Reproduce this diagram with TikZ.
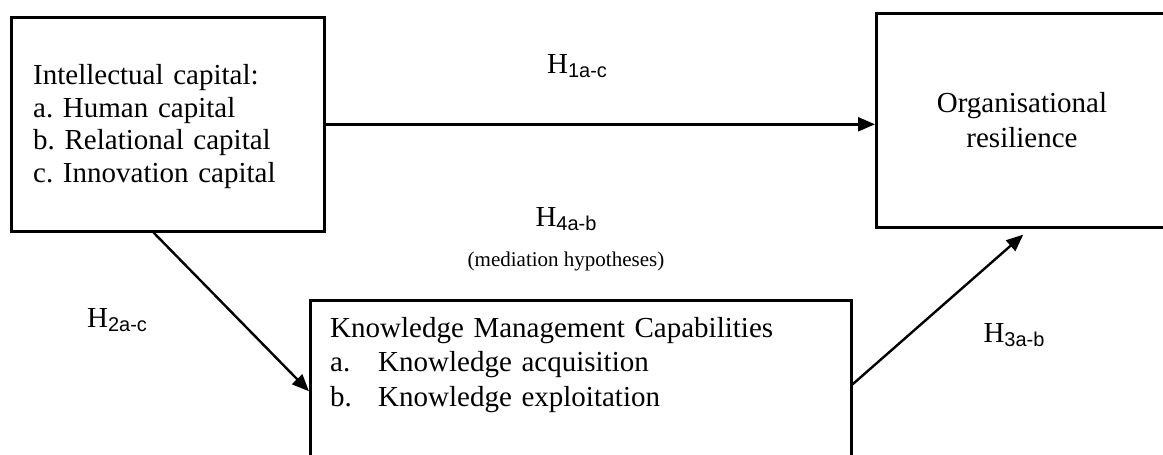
\documentclass[tikz,border=0pt]{standalone}
\usepackage{fontspec}
\setmainfont{Liberation Serif}
\newfontfamily\subfont{Liberation Sans}
\usetikzlibrary{arrows.meta,calc}
\frenchspacing
\newcommand\hsub[1]{\raisebox{-4pt}{\fontsize{20}{20}\subfont #1}}
\begin{document}
\begin{tikzpicture}[x=1pt,y=-1pt,
  box/.style={draw, line width=2.6pt, inner sep=0pt, anchor=north west},
  body/.style={font=\fontsize{29}{33}\selectfont, inner sep=0pt, align=left},
  hyp/.style={font=\fontsize{29}{33}\selectfont, inner sep=0pt, anchor=base},
  arr/.style={line width=2.4pt, -{Triangle[length=17pt,width=14pt]}}]
\useasboundingbox (0,0) rectangle (1163,455);
\clip (0,0) rectangle (1163,455);

% boxes
\node[box, minimum width=313pt, minimum height=214pt] (ic) at (10,16) {};
\node[box, minimum width=294pt, minimum height=214pt] (or) at (875,12) {};
\node[box, minimum width=541pt, minimum height=182pt] (km) at (309,299) {};

% box texts
\node[body, anchor=base west, text width=300pt] (ictext) at (33,84)
  {Intellectual capital:\\ a. Human capital\\ b. Relational capital\\ c. Innovation capital};
\node[body, anchor=base, text width=280pt, align=center, font=\fontsize{29}{35}\selectfont] (ortext) at (1022,112)
  {Organisational\\ resilience};
\node[body, anchor=base west, text width=520pt, font=\fontsize{29}{34.5}\selectfont] (kmtext) at (330,337)
  {Knowledge Management Capabilities\\ \makebox[48pt][l]{a.}Knowledge acquisition\\ \makebox[48pt][l]{b.}Knowledge exploitation};

% hypothesis labels
\node[hyp] (h1) at (577,73) {H\hsub{1a-c}};
\node[hyp] (h4) at (566,226) {H\hsub{4a-b}};
\node[hyp, font=\fontsize{21}{25}\selectfont] (med) at (566,266) {(mediation hypotheses)};
\node[hyp] (h2) at (117,327) {H\hsub{2a-c}};
\node[hyp] (h3) at (1014,342) {H\hsub{3a-b}};

% connectors
\draw[arr] (ic.east) -- (ic.east -| or.west);
\draw[arr] ($(ic.south west)!0.455!(ic.south east)$) -- (km.west);
\draw[arr] ([yshift=7pt]km.east) -- ([yshift=-6pt]or.south);
\end{tikzpicture}
\end{document}
